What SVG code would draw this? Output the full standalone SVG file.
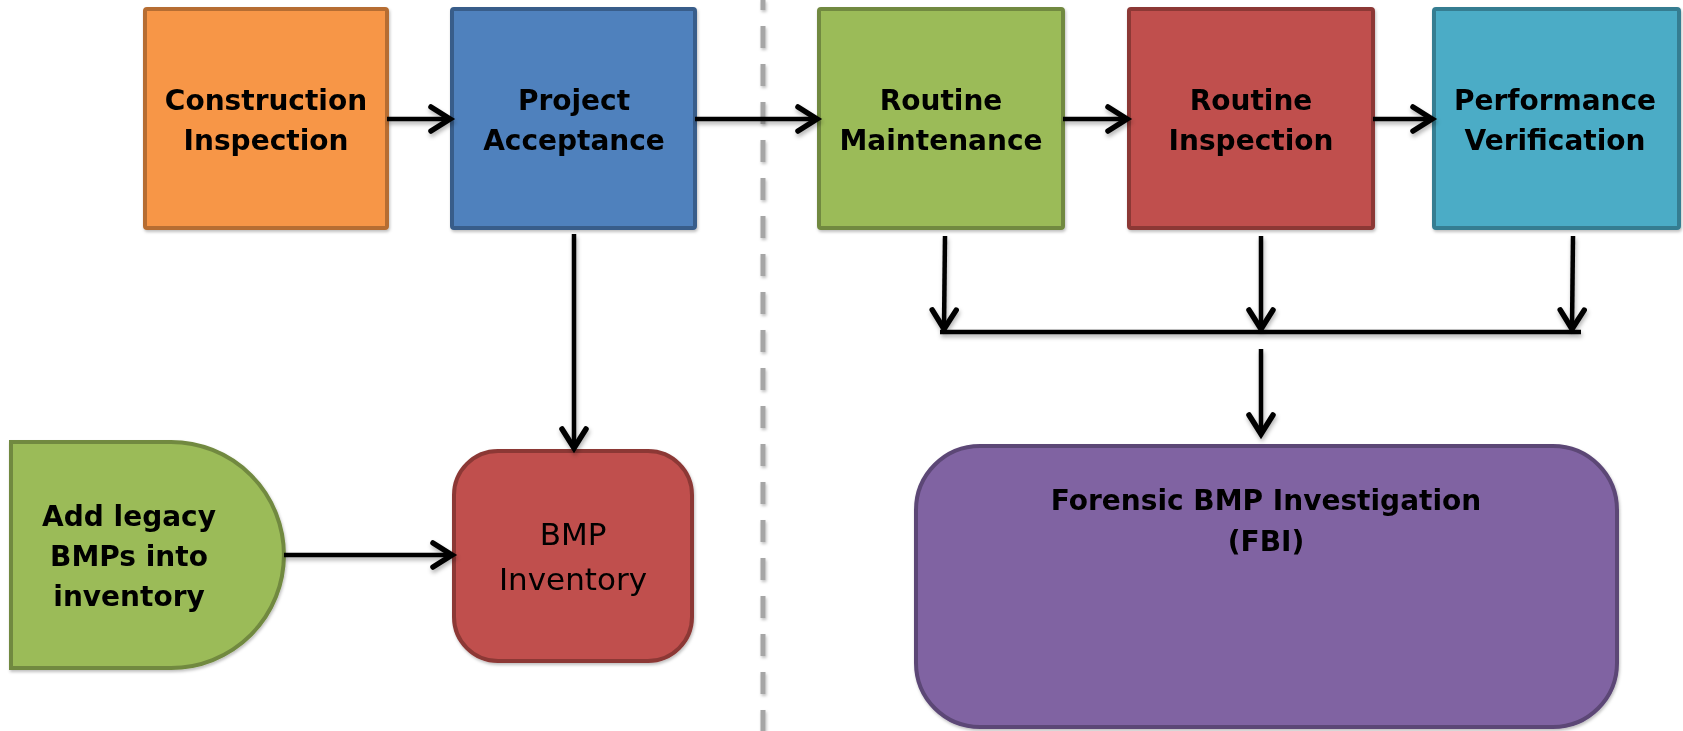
<svg xmlns="http://www.w3.org/2000/svg" width="1683" height="731" viewBox="0 0 1683 731">
<style>
.box{stroke-width:4}
.t{font-family:"Comic Sans MS","DejaVu Sans",sans-serif;font-weight:bold;font-size:28px;fill:#000;text-anchor:middle}
.tn{font-family:"Comic Sans MS","DejaVu Sans",sans-serif;font-weight:normal;font-size:31px;fill:#000;text-anchor:middle}
.c{stroke:#000;stroke-width:4.5;fill:none}
</style>
<defs>
<filter id="sh" filterUnits="userSpaceOnUse" x="0" y="0" width="1683" height="731">
<feDropShadow dx="1" dy="3" stdDeviation="2" flood-color="#000" flood-opacity="0.3"/>
</filter>
<filter id="bsh" filterUnits="userSpaceOnUse" x="0" y="0" width="1683" height="731">
<feDropShadow dx="1" dy="2" stdDeviation="1.5" flood-color="#000" flood-opacity="0.25"/>
</filter>
<marker id="ah" markerUnits="userSpaceOnUse" markerWidth="34" markerHeight="34" viewBox="-28 -17 34 34" refX="0" refY="0" orient="auto">
<path d="M-19,-12 L0,0 L-19,12" fill="none" stroke="#000" stroke-width="5.5" stroke-linecap="round" stroke-linejoin="miter"/>
</marker>
</defs>
<rect width="1683" height="731" fill="#fff"/>
<line x1="763" y1="0" x2="763" y2="731" stroke="#A6A6A6" stroke-width="5" stroke-dasharray="22 16" stroke-dashoffset="12" filter="url(#bsh)"/>

<g id="construction-inspection" filter="url(#bsh)">
<rect class="box" x="145" y="9" width="242" height="219" rx="2" fill="#F79646" stroke="#B66D31"/>
<text class="t" x="266" y="110">Construction</text>
<text class="t" x="266" y="150">Inspection</text>
</g>
<g id="project-acceptance" filter="url(#bsh)">
<rect class="box" x="452" y="9" width="243" height="219" rx="2" fill="#4F81BD" stroke="#385D8A"/>
<text class="t" x="574" y="110">Project</text>
<text class="t" x="574" y="150">Acceptance</text>
</g>
<g id="routine-maintenance" filter="url(#bsh)">
<rect class="box" x="819" y="9" width="244" height="219" rx="2" fill="#9BBB59" stroke="#71893F"/>
<text class="t" x="941" y="110">Routine</text>
<text class="t" x="941" y="150">Maintenance</text>
</g>
<g id="routine-inspection" filter="url(#bsh)">
<rect class="box" x="1129" y="9" width="244" height="219" rx="2" fill="#C0504D" stroke="#8C3836"/>
<text class="t" x="1251" y="110">Routine</text>
<text class="t" x="1251" y="150">Inspection</text>
</g>
<g id="performance-verification" filter="url(#bsh)">
<rect class="box" x="1434" y="9" width="245" height="219" rx="2" fill="#4BACC6" stroke="#357D91"/>
<text class="t" x="1555" y="110">Performance</text>
<text class="t" x="1555" y="150">Verification</text>
</g>
<g id="add-legacy" filter="url(#bsh)">
<path class="box" d="M11,442 H171 A113,113 0 0 1 171,668 H11 Z" fill="#9BBB59" stroke="#71893F"/>
<text class="t" x="129" y="526">Add legacy</text>
<text class="t" x="129" y="566">BMPs into</text>
<text class="t" x="129" y="606">inventory</text>
</g>
<g id="bmp-inventory" filter="url(#bsh)">
<rect class="box" x="454" y="451" width="238" height="210" rx="44" fill="#C0504D" stroke="#8C3836"/>
<text class="tn" x="573" y="545">BMP</text>
<text class="tn" x="573" y="590">Inventory</text>
</g>
<g id="fbi" filter="url(#bsh)">
<rect class="box" x="916" y="446" width="701" height="281" rx="64" fill="#8064A2" stroke="#5C4776"/>
<text class="t" x="1266" y="510">Forensic BMP Investigation</text>
<text class="t" x="1266" y="551">(FBI)</text>
</g>

<g id="connectors" filter="url(#sh)">
<line class="c" x1="387" y1="119" x2="450" y2="119" marker-end="url(#ah)"/>
<line class="c" x1="695" y1="119" x2="817" y2="119" marker-end="url(#ah)"/>
<line class="c" x1="1063" y1="119" x2="1127" y2="119" marker-end="url(#ah)"/>
<line class="c" x1="1373" y1="119" x2="1432" y2="119" marker-end="url(#ah)"/>
<line class="c" x1="574" y1="234" x2="574" y2="448" marker-end="url(#ah)"/>
<line class="c" x1="284" y1="555" x2="452" y2="555" marker-end="url(#ah)"/>
<line class="c" x1="945" y1="236" x2="944" y2="329" marker-end="url(#ah)"/>
<line class="c" x1="1261" y1="236" x2="1261" y2="329" marker-end="url(#ah)"/>
<line class="c" x1="1573" y1="236" x2="1572" y2="329" marker-end="url(#ah)"/>
<line class="c" x1="940" y1="332" x2="1581" y2="332" stroke-width="5"/>
<line class="c" x1="1261" y1="349" x2="1261" y2="434" marker-end="url(#ah)"/>
</g>
</svg>
